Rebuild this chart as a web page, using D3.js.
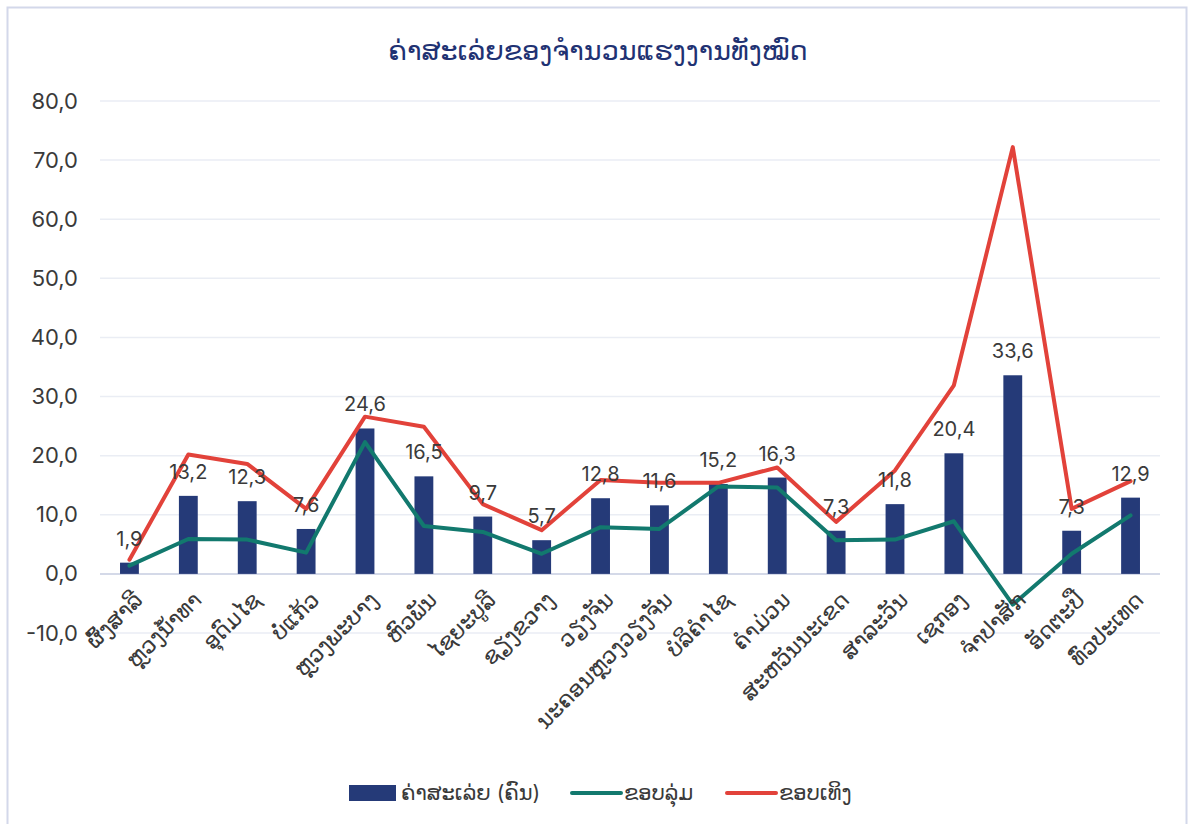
<!DOCTYPE html>
<html>
<head>
<meta charset="utf-8">
<script src="https://cdn.jsdelivr.net/npm/d3@7"></script>
<style>
  html, body { margin: 0; padding: 0; background: #fff; }
  svg { display: block; font-family: "Inter", "Noto Sans", "DejaVu Sans", sans-serif; }
</style>
</head>
<body>
<div id="chart"></div>
<script>
const WIDTH = 1188;
const HEIGHT = 824;
const MARGIN = { top: 101, right: 28, bottom: 191, left: 100 };

const titleText = 'ຄ່າສະເລ່ຍຂອງຈຳນວນແຮງງານທັງໝົດ';

const provinces = [
  'ຜົ້ງສາລີ', 'ຫຼວງນ້ຳທາ', 'ອຸດົມໄຊ', 'ບໍ່ແກ້ວ', 'ຫຼວງພະບາງ', 'ຫົວພັນ',
  'ໄຊຍະບູລີ', 'ຊຽງຂວາງ', 'ວຽງຈັນ', 'ນະຄອນຫຼວງວຽງຈັນ', 'ບໍລິຄຳໄຊ', 'ຄຳມ່ວນ',
  'ສະຫວັນນະເຂດ', 'ສາລະວັນ', 'ເຊກອງ', 'ຈຳປາສັກ', 'ອັດຕະປື', 'ທົ່ວປະເທດ',
];

const averages = [1.9, 13.2, 12.3, 7.6, 24.6, 16.5, 9.7, 5.7, 12.8, 11.6, 15.2, 16.3, 7.3, 11.8, 20.4, 33.6, 7.3, 12.9];
const lowerBound = [1.4, 5.9, 5.8, 3.6, 22.3, 8.1, 7.1, 3.4, 7.9, 7.6, 14.8, 14.6, 5.7, 5.8, 8.9, -5.2, 3.4, 9.9];
const upperBound = [2.4, 20.2, 18.6, 11.0, 26.6, 24.9, 11.8, 7.4, 15.9, 15.4, 15.4, 18.0, 8.8, 17.5, 31.9, 72.2, 11.0, 15.7];

const yTicks = [-10, 0, 10, 20, 30, 40, 50, 60, 70, 80];

const legendItems = [
  { label: 'ຄ່າສະເລ່ຍ (ຄົນ)', type: 'bar', color: '#253a78' },
  { label: 'ຂອບລຸ່ມ', type: 'line', color: '#12796e' },
  { label: 'ຂອບເທິງ', type: 'line', color: '#e2423a' },
];

// comma decimals, plain hyphen for negatives
const fmt = (v) => d3.format('.1f')(v).replace('.', ',').replace('\u2212', '-');

const svg = d3
  .select('#chart')
  .append('svg')
  .attr('width', WIDTH)
  .attr('height', HEIGHT);

// chart frame
svg
  .append('rect')
  .attr('x', 7.5)
  .attr('y', 7.5)
  .attr('width', WIDTH - 9)
  .attr('height', HEIGHT)
  .attr('fill', '#fff')
  .attr('stroke', '#d3d8ea')
  .attr('stroke-width', 2);

svg
  .append('text')
  .attr('x', 598)
  .attr('y', 60)
  .attr('text-anchor', 'middle')
  .attr('fill', '#1f3273')
  .attr('font-size', 27)
  .text(titleText);

const plotW = WIDTH - MARGIN.left - MARGIN.right;
const plotH = HEIGHT - MARGIN.top - MARGIN.bottom;

const x = d3.scaleBand().domain(provinces).range([0, plotW]).paddingInner(0.68).paddingOuter(0.34);
const y = d3.scaleLinear().domain([-10, 80]).range([plotH, 0]);
const cx = (d) => x(d) + x.bandwidth() / 2;

const g = svg.append('g').attr('transform', `translate(${MARGIN.left},${MARGIN.top})`);

// grid
g.append('g')
  .selectAll('line')
  .data(yTicks)
  .join('line')
  .attr('x1', 0)
  .attr('x2', plotW)
  .attr('y1', (d) => y(d))
  .attr('y2', (d) => y(d))
  .attr('stroke', (d) => (d === 0 ? '#d4d9e8' : '#eaedf4'))
  .attr('stroke-width', (d) => (d === 0 ? 2 : 1.5));

// y axis labels
const yAxis = d3.axisLeft(y).tickValues(yTicks).tickFormat(fmt).tickSize(0).tickPadding(22);
g.append('g')
  .call(yAxis)
  .call((s) => s.select('.domain').remove())
  .selectAll('text')
  .attr('fill', '#3a3a3a')
  .attr('font-size', 22)
  .attr('font-family', '"Inter", "Noto Sans", sans-serif');

// bars
g.append('g')
  .selectAll('rect')
  .data(provinces)
  .join('rect')
  .attr('x', (d) => x(d))
  .attr('width', x.bandwidth())
  .attr('y', (d, i) => y(Math.max(0, averages[i])))
  .attr('height', (d, i) => Math.abs(y(averages[i]) - y(0)))
  .attr('fill', '#253a78');

// lines
const line = d3
  .line()
  .x((d, i) => cx(provinces[i]))
  .y((d) => y(d));

g.append('path')
  .datum(lowerBound)
  .attr('d', line)
  .attr('fill', 'none')
  .attr('stroke', '#12796e')
  .attr('stroke-width', 4)
  .attr('stroke-linecap', 'round')
  .attr('stroke-linejoin', 'round');

g.append('path')
  .datum(upperBound)
  .attr('d', line)
  .attr('fill', 'none')
  .attr('stroke', '#e2423a')
  .attr('stroke-width', 4)
  .attr('stroke-linecap', 'round')
  .attr('stroke-linejoin', 'round');

// data labels
g.append('g')
  .selectAll('text')
  .data(provinces)
  .join('text')
  .attr('x', (d) => cx(d))
  .attr('y', (d, i) => y(averages[i]) - 17)
  .attr('text-anchor', 'middle')
  .attr('fill', '#3a3a3a')
  .attr('font-size', 20)
  .attr('font-family', '"Inter", "Noto Sans", sans-serif')
  .text((d, i) => fmt(averages[i]));

// x axis labels
g.append('g')
  .selectAll('text')
  .data(provinces)
  .join('text')
  .attr('transform', (d) => `translate(${cx(d) + 9},${y(0) + 22}) rotate(-45)`)
  .attr('text-anchor', 'end')
  .attr('dy', '0.35em')
  .attr('fill', '#3a3a3a')
  .attr('font-size', 22)
  .text((d) => d);

// legend
const legend = svg.append('g').attr('transform', 'translate(349,793)');
const offsets = [0, 221, 376];
legendItems.forEach((item, i) => {
  const li = legend.append('g').attr('transform', `translate(${offsets[i]},0)`);
  if (item.type === 'bar') {
    li.append('rect').attr('x', 0).attr('y', -8).attr('width', 47).attr('height', 16).attr('fill', item.color);
  } else {
    li.append('line')
      .attr('x1', 2).attr('x2', 51).attr('y1', 0).attr('y2', 0)
      .attr('stroke', item.color).attr('stroke-width', 4).attr('stroke-linecap', 'round');
  }
  li.append('text')
    .attr('x', item.type === 'bar' ? 52 : 54)
    .attr('dy', '0.35em')
    .attr('fill', '#3a3a3a')
    .attr('font-size', 21)
    .text(item.label);
});
</script>
</body>
</html>
